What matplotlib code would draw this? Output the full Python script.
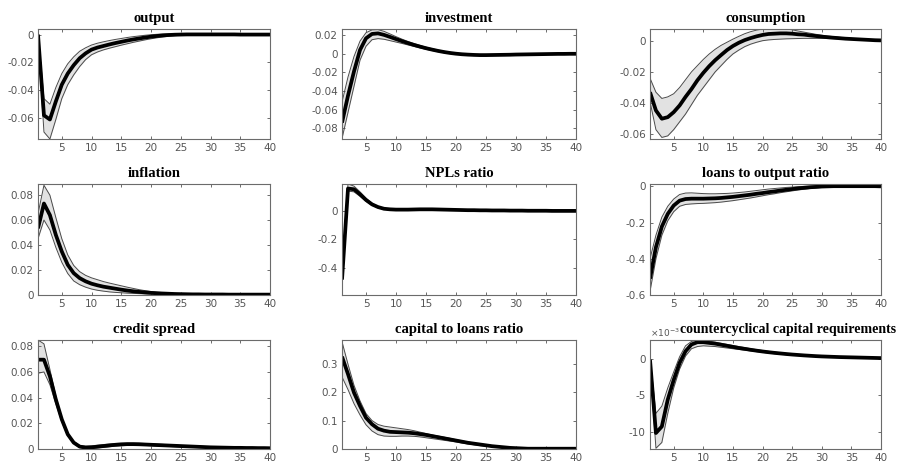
import numpy as np
import matplotlib.pyplot as plt
from matplotlib.ticker import FuncFormatter

plt.rcParams['axes.unicode_minus'] = False

# horizon (quarters)
t = np.arange(1, 41)

# impulse responses: median and band bounds
output_mid = [0.000, -0.058, -0.061, -0.048, -0.036, -0.028, -0.022, -0.017, -0.0135, -0.0108,
              -0.0093, -0.0082, -0.0071, -0.0061, -0.0052, -0.0043, -0.0035, -0.0028, -0.0021, -0.0015,
              -0.0010, -0.0006, -0.0003, -0.0001, 0.0000, 0.0001, 0.0001, 0.0001, 0.0001, 0.0001,
              0.0001, 0.0001, 0.0001, 0.0001, 0.0000, 0.0000, 0.0000, 0.0000, 0.0000, 0.0000]
output_up = [0.002, -0.046, -0.050, -0.038, -0.028, -0.021, -0.016, -0.012, -0.0095, -0.0075,
             -0.0062, -0.0052, -0.0043, -0.0035, -0.0028, -0.0021, -0.0015, -0.0010, -0.0005, -0.0001,
             0.0002, 0.0004, 0.0005, 0.0005, 0.0005, 0.0005, 0.0004, 0.0004, 0.0004, 0.0003,
             0.0003, 0.0003, 0.0003, 0.0002, 0.0002, 0.0002, 0.0002, 0.0002, 0.0002, 0.0002]
output_lo = [-0.003, -0.070, -0.075, -0.061, -0.046, -0.036, -0.029, -0.023, -0.018, -0.0145,
             -0.0125, -0.0110, -0.0098, -0.0087, -0.0076, -0.0066, -0.0056, -0.0047, -0.0038, -0.0030,
             -0.0023, -0.0017, -0.0012, -0.0008, -0.0005, -0.0003, -0.0002, -0.0002, -0.0002, -0.0002,
             -0.0002, -0.0002, -0.0002, -0.0002, -0.0002, -0.0002, -0.0002, -0.0002, -0.0002, -0.0002]

invest_mid = [-0.074, -0.045, -0.019, 0.004, 0.0165, 0.0212, 0.0218, 0.0202, 0.0180, 0.0157,
              0.0135, 0.0114, 0.0094, 0.0076, 0.0059, 0.0044, 0.0030, 0.0018, 0.0008, 0.0000,
              -0.0006, -0.0010, -0.0013, -0.0015, -0.0015, -0.0014, -0.0013, -0.0012, -0.0011, -0.0009,
              -0.0008, -0.0007, -0.0006, -0.0005, -0.0004, -0.0003, -0.0002, -0.0002, -0.0001, -0.0001]
invest_up = [-0.052, -0.025, -0.003, 0.0135, 0.0225, 0.0255, 0.0258, 0.0240, 0.0212, 0.0183,
             0.0156, 0.0131, 0.0109, 0.0089, 0.0070, 0.0054, 0.0039, 0.0026, 0.0015, 0.0006,
             -0.0001, -0.0005, -0.0008, -0.0010, -0.0010, -0.0010, -0.0009, -0.0008, -0.0007, -0.0006,
             -0.0005, -0.0004, -0.0003, -0.0003, -0.0002, -0.0002, -0.0001, -0.0001, 0.0000, 0.0000]
invest_lo = [-0.091, -0.063, -0.035, -0.007, 0.008, 0.0150, 0.0162, 0.0155, 0.0140, 0.0125,
             0.0110, 0.0094, 0.0078, 0.0062, 0.0047, 0.0034, 0.0022, 0.0011, 0.0001, -0.0006,
             -0.0011, -0.0015, -0.0018, -0.0020, -0.0020, -0.0019, -0.0018, -0.0016, -0.0015, -0.0013,
             -0.0011, -0.0010, -0.0009, -0.0008, -0.0007, -0.0005, -0.0004, -0.0003, -0.0002, -0.0002]

cons_mid = [-0.033, -0.0447, -0.050, -0.049, -0.0458, -0.0415, -0.036, -0.031, -0.0254, -0.0206,
            -0.0163, -0.0125, -0.0092, -0.0060, -0.0034, -0.0013, 0.0004, 0.0017, 0.0028, 0.0037,
            0.0043, 0.0045, 0.0047, 0.0047, 0.0045, 0.0041, 0.0039, 0.0034, 0.0030, 0.0026,
            0.0022, 0.0019, 0.0016, 0.0013, 0.0011, 0.0009, 0.0007, 0.0005, 0.0003, 0.0002]
cons_up = [-0.024, -0.033, -0.037, -0.036, -0.034, -0.030, -0.025, -0.020, -0.016, -0.012,
           -0.0085, -0.0055, -0.0030, -0.0010, 0.0010, 0.0028, 0.0045, 0.0058, 0.0068, 0.0074,
           0.0078, 0.0080, 0.0079, 0.0076, 0.0070, 0.0062, 0.0055, 0.0048, 0.0041, 0.0035,
           0.0030, 0.0026, 0.0022, 0.0018, 0.0015, 0.0012, 0.0010, 0.0008, 0.0006, 0.0004]
cons_lo = [-0.039, -0.057, -0.062, -0.061, -0.057, -0.052, -0.047, -0.041, -0.035, -0.030,
           -0.025, -0.020, -0.016, -0.012, -0.0085, -0.0060, -0.0038, -0.0022, -0.0010, 0.0000,
           0.0005, 0.0008, 0.0010, 0.0012, 0.0013, 0.0014, 0.0015, 0.0015, 0.0015, 0.0015,
           0.0014, 0.0013, 0.0011, 0.0009, 0.0008, 0.0006, 0.0005, 0.0004, 0.0002, 0.0001]

infl_mid = [0.0533, 0.0733, 0.064, 0.048, 0.0347, 0.024, 0.0173, 0.0133, 0.0107, 0.0088,
            0.0075, 0.0064, 0.0056, 0.0048, 0.0040, 0.0033, 0.0027, 0.0022, 0.0018, 0.0014,
            0.0011, 0.0009, 0.0007, 0.0005, 0.0004, 0.0003, 0.0002, 0.0002, 0.0001, 0.0001,
            0.0001, 0.0001, 0.0000, 0.0000, 0.0000, 0.0000, 0.0000, 0.0000, 0.0000, 0.0000]
infl_up = [0.065, 0.088, 0.080, 0.062, 0.045, 0.032, 0.0235, 0.0185, 0.0155, 0.0135,
           0.0120, 0.0105, 0.0093, 0.0082, 0.0071, 0.0060, 0.0050, 0.0040, 0.0032, 0.0025,
           0.0020, 0.0016, 0.0012, 0.0010, 0.0008, 0.0006, 0.0005, 0.0004, 0.0003, 0.0003,
           0.0002, 0.0002, 0.0002, 0.0001, 0.0001, 0.0001, 0.0001, 0.0001, 0.0001, 0.0001]
infl_lo = [0.045, 0.060, 0.052, 0.038, 0.026, 0.017, 0.011, 0.008, 0.006, 0.0045,
           0.0035, 0.0028, 0.0022, 0.0018, 0.0015, 0.0012, 0.0010, 0.0008, 0.0006, 0.0005,
           0.0004, 0.0003, 0.0002, 0.0001, 0.0001, 0.0000, 0.0000, 0.0000, 0.0000, 0.0000,
           0.0000, 0.0000, 0.0000, 0.0000, 0.0000, 0.0000, 0.0000, 0.0000, 0.0000, 0.0000]

npl_mid = [-0.482, 0.158, 0.153, 0.118, 0.078, 0.047, 0.028, 0.016, 0.012, 0.010,
           0.010, 0.010, 0.011, 0.012, 0.012, 0.012, 0.011, 0.010, 0.009, 0.008,
           0.007, 0.006, 0.006, 0.005, 0.005, 0.004, 0.004, 0.004, 0.003, 0.003,
           0.003, 0.002, 0.002, 0.002, 0.002, 0.001, 0.001, 0.001, 0.001, 0.001]
npl_up = [-0.460, 0.190, 0.175, 0.135, 0.090, 0.055, 0.033, 0.020, 0.015, 0.013,
          0.013, 0.013, 0.014, 0.015, 0.015, 0.015, 0.014, 0.013, 0.012, 0.011,
          0.010, 0.009, 0.008, 0.007, 0.007, 0.006, 0.006, 0.005, 0.005, 0.004,
          0.004, 0.004, 0.003, 0.003, 0.003, 0.002, 0.002, 0.002, 0.002, 0.002]
npl_lo = [-0.505, 0.140, 0.135, 0.103, 0.068, 0.040, 0.023, 0.012, 0.008, 0.007,
          0.007, 0.007, 0.008, 0.009, 0.009, 0.009, 0.008, 0.007, 0.006, 0.005,
          0.004, 0.004, 0.003, 0.003, 0.003, 0.002, 0.002, 0.002, 0.001, 0.001,
          0.001, 0.001, 0.001, 0.001, 0.000, 0.000, 0.000, 0.000, 0.000, 0.000]

loans_mid = [-0.510, -0.336, -0.222, -0.152, -0.106, -0.079, -0.070, -0.068, -0.068, -0.068,
             -0.067, -0.066, -0.064, -0.061, -0.058, -0.054, -0.050, -0.046, -0.041, -0.037,
             -0.032, -0.028, -0.023, -0.019, -0.015, -0.011, -0.008, -0.005, -0.003, -0.001,
             0.000, 0.001, 0.001, 0.001, 0.001, 0.001, 0.001, 0.001, 0.001, 0.000]
loans_up = [-0.400, -0.270, -0.170, -0.110, -0.070, -0.045, -0.037, -0.036, -0.038, -0.040,
            -0.041, -0.041, -0.040, -0.039, -0.037, -0.034, -0.031, -0.027, -0.023, -0.019,
            -0.015, -0.012, -0.009, -0.006, -0.004, -0.002, 0.000, 0.001, 0.002, 0.003,
            0.003, 0.004, 0.004, 0.004, 0.004, 0.004, 0.003, 0.003, 0.003, 0.003]
loans_lo = [-0.580, -0.400, -0.270, -0.190, -0.140, -0.110, -0.100, -0.097, -0.095, -0.094,
            -0.092, -0.090, -0.087, -0.083, -0.079, -0.074, -0.069, -0.064, -0.058, -0.052,
            -0.046, -0.041, -0.035, -0.030, -0.025, -0.020, -0.016, -0.012, -0.009, -0.006,
            -0.004, -0.002, -0.001, 0.000, 0.000, 0.000, 0.000, 0.000, 0.000, 0.000]

spread_mid = [0.0696, 0.0696, 0.0566, 0.0384, 0.0229, 0.0112, 0.0047, 0.0016, 0.0008, 0.0010,
              0.0015, 0.0020, 0.0025, 0.0030, 0.0033, 0.0035, 0.0035, 0.0034, 0.0032, 0.0030,
              0.0028, 0.0026, 0.0024, 0.0022, 0.0020, 0.0018, 0.0016, 0.0014, 0.0012, 0.0010,
              0.0009, 0.0008, 0.0007, 0.0006, 0.0006, 0.0005, 0.0005, 0.0004, 0.0004, 0.0003]
spread_up = [0.085, 0.082, 0.062, 0.041, 0.024, 0.012, 0.0055, 0.0025, 0.0020, 0.0022,
             0.0027, 0.0032, 0.0036, 0.0040, 0.0042, 0.0043, 0.0043, 0.0042, 0.0040, 0.0038,
             0.0035, 0.0033, 0.0030, 0.0028, 0.0025, 0.0023, 0.0021, 0.0019, 0.0017, 0.0015,
             0.0013, 0.0012, 0.0011, 0.0010, 0.0009, 0.0008, 0.0007, 0.0007, 0.0006, 0.0006]
spread_lo = [0.059, 0.060, 0.050, 0.035, 0.021, 0.010, 0.004, 0.0008, 0.0002, 0.0002,
             0.0006, 0.0010, 0.0015, 0.0019, 0.0023, 0.0025, 0.0026, 0.0026, 0.0025, 0.0023,
             0.0021, 0.0019, 0.0017, 0.0015, 0.0013, 0.0011, 0.0010, 0.0008, 0.0007, 0.0006,
             0.0005, 0.0004, 0.0004, 0.0003, 0.0003, 0.0002, 0.0002, 0.0002, 0.0001, 0.0001]

capital_mid = [0.327, 0.265, 0.199, 0.152, 0.110, 0.087, 0.071, 0.064, 0.060, 0.059,
               0.058, 0.057, 0.055, 0.052, 0.049, 0.045, 0.041, 0.037, 0.033, 0.029,
               0.025, 0.021, 0.018, 0.015, 0.012, 0.009, 0.007, 0.005, 0.003, 0.002,
               0.001, 0.000, 0.000, 0.000, 0.000, 0.000, 0.000, 0.000, 0.000, 0.000]
capital_up = [0.380, 0.300, 0.225, 0.170, 0.125, 0.100, 0.086, 0.080, 0.077, 0.074,
              0.071, 0.068, 0.064, 0.059, 0.054, 0.049, 0.045, 0.041, 0.037, 0.032,
              0.028, 0.024, 0.020, 0.017, 0.014, 0.011, 0.008, 0.006, 0.004, 0.003,
              0.002, 0.001, 0.001, 0.000, 0.000, 0.000, 0.000, 0.000, 0.000, 0.000]
capital_lo = [0.255, 0.210, 0.160, 0.120, 0.085, 0.063, 0.050, 0.045, 0.044, 0.044,
              0.045, 0.045, 0.044, 0.042, 0.039, 0.036, 0.033, 0.030, 0.027, 0.024,
              0.020, 0.017, 0.014, 0.011, 0.009, 0.007, 0.005, 0.003, 0.002, 0.001,
              0.000, 0.000, 0.000, 0.000, 0.000, 0.000, 0.000, 0.000, 0.000, 0.000]

ccyb_mid = [-0.0001, -0.0102, -0.0093, -0.0056, -0.0029, -0.00055, 0.00106, 0.00198, 0.0023, 0.0023,
            0.0022, 0.0021, 0.00195, 0.0018, 0.00165, 0.0015, 0.00138, 0.00125, 0.00113, 0.00102,
            0.00092, 0.00083, 0.00075, 0.00067, 0.0006, 0.00054, 0.00048, 0.00043, 0.00038, 0.00034,
            0.00031, 0.00028, 0.00025, 0.00023, 0.00021, 0.00019, 0.00017, 0.00015, 0.00013, 0.00011]
ccyb_up = [0.0003, -0.0075, -0.0065, -0.0040, -0.0018, 0.0003, 0.0018, 0.0024, 0.0026, 0.0026,
           0.00245, 0.0023, 0.00215, 0.002, 0.00185, 0.0017, 0.00155, 0.0014, 0.00127, 0.00115,
           0.00104, 0.00094, 0.00085, 0.00076, 0.00068, 0.00061, 0.00055, 0.00049, 0.00044, 0.0004,
           0.00036, 0.00033, 0.0003, 0.00027, 0.00024, 0.00022, 0.0002, 0.00018, 0.00016, 0.00014]
ccyb_lo = [-0.0005, -0.0123, -0.0115, -0.0075, -0.0040, -0.0014, 0.0004, 0.0014, 0.0017, 0.0018,
           0.00175, 0.0017, 0.0016, 0.0015, 0.0014, 0.0013, 0.0012, 0.0011, 0.001, 0.0009,
           0.0008, 0.00072, 0.00065, 0.00058, 0.00052, 0.00047, 0.00042, 0.00037, 0.00033, 0.0003,
           0.00027, 0.00024, 0.00021, 0.00019, 0.00017, 0.00015, 0.00013, 0.00011, 0.0001, 0.00008]

titles = ['output', 'investment', 'consumption',
          'inflation', 'NPLs ratio', 'loans to output ratio',
          'credit spread', 'capital to loans ratio', 'countercyclical capital requirements']
series = [(output_mid, output_lo, output_up), (invest_mid, invest_lo, invest_up),
          (cons_mid, cons_lo, cons_up), (infl_mid, infl_lo, infl_up),
          (npl_mid, npl_lo, npl_up), (loans_mid, loans_lo, loans_up),
          (spread_mid, spread_lo, spread_up), (capital_mid, capital_lo, capital_up),
          (ccyb_mid, ccyb_lo, ccyb_up)]
ylims = [(-0.075, 0.004), (-0.0915, 0.0265), (-0.063, 0.0075),
         (-0.0003, 0.089), (-0.59, 0.19), (-0.6, 0.013),
         (-0.0003, 0.085), (-0.001, 0.386), (-0.0124, 0.0026)]
yticks = [[-0.06, -0.04, -0.02, 0], [-0.08, -0.06, -0.04, -0.02, 0, 0.02], [-0.06, -0.04, -0.02, 0],
          [0, 0.02, 0.04, 0.06, 0.08], [-0.4, -0.2, 0], [-0.6, -0.4, -0.2, 0],
          [0, 0.02, 0.04, 0.06, 0.08], [0, 0.1, 0.2, 0.3], [-0.010, -0.005, 0]]

# axes boxes in pixels (left, top, right, bottom) on a 898x468 canvas
W, H = 898, 468
cols = [(38, 270), (342, 576), (650, 881)]
rows = [(29, 139), (184, 295), (340, 449)]

fig = plt.figure(figsize=(W / 100, H / 100), dpi=100)

for i in range(9):
    (x0, x1), (y0, y1) = cols[i % 3], rows[i // 3]
    ax = fig.add_axes([x0 / W, 1 - y1 / H, (x1 - x0) / W, (y1 - y0) / H])
    mid, lo, up = series[i]
    ax.fill_between(t, lo, up, color='#e2e2e2', lw=0)
    ax.plot(t, lo, color='#4a4a4a', lw=0.7)
    ax.plot(t, up, color='#4a4a4a', lw=0.7)
    ax.plot(t, mid, color='black', lw=2.7, solid_capstyle='butt')

    ax.set_xlim(1, 40)
    ax.set_ylim(*ylims[i])
    ax.set_xticks([5, 10, 15, 20, 25, 30, 35, 40])
    ax.set_yticks(yticks[i])
    if i == 8:
        # tick labels in units of 10^-3, multiplier written above the axis
        ax.yaxis.set_major_formatter(FuncFormatter(lambda v, p: '%g' % round(v * 1e3, 3)))
        ax.text(0.0, 1.005, r'$\times10^{-3}$', transform=ax.transAxes,
                ha='left', va='bottom', fontsize=6.5, color='#555555')
    else:
        ax.yaxis.set_major_formatter(FuncFormatter(lambda v, p: '%g' % round(v, 4)))

    ax.tick_params(direction='in', length=2.5, width=0.6, top=True, right=True,
                   labelsize=7.5, colors='#555555', pad=3)
    for s in ax.spines.values():
        s.set_color('#6b6b6b')
        s.set_linewidth(0.8)
    if i == 8:
        ax.set_title(titles[i], family='Liberation Serif', fontweight='bold',
                     fontsize=10, pad=5, x=0.13, y=1.0, ha='left')
    else:
        ax.set_title(titles[i], family='Liberation Serif', fontweight='bold',
                     fontsize=10.5, pad=5, y=1.0)

fig.savefig('out.png', dpi=100)
